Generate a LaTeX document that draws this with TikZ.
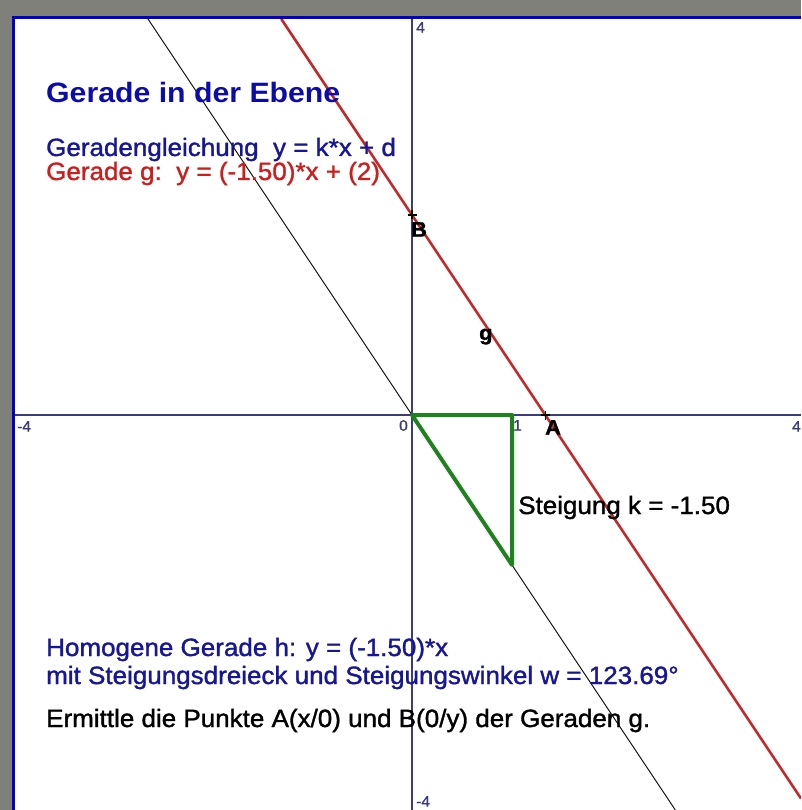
\documentclass[tikz,border=0pt]{standalone}
\usepackage{fontspec}
\setmainfont{Liberation Sans}[FakeStretch=1.04,FakeBold=1.3]
\newfontfamily\titlefont{Liberation Sans Bold}[FakeStretch=1.08]
\definecolor{framegray}{RGB}{128,128,122}
\definecolor{frameblue}{RGB}{0,0,200}
\definecolor{axiscol}{RGB}{60,60,125}
\definecolor{titleblue}{RGB}{12,12,170}
\definecolor{textblue}{RGB}{22,22,150}
\definecolor{textred}{RGB}{205,30,30}
\definecolor{linered}{RGB}{195,40,40}
\definecolor{trigreen}{RGB}{30,130,30}
\tikzset{
  body/.style={anchor=base west,inner sep=0pt,font=\fontsize{25}{29}\selectfont},
  ticklab/.style={inner sep=0pt,text=axiscol,font=\fontsize{15}{17}\selectfont},
  ptlab/.style={inner sep=0pt,font=\bfseries\fontsize{21}{24}\selectfont},
  axisline/.style={draw=axiscol,line width=1.3pt},
  crossmark/.style={draw=black,line width=1.5pt}
}
\begin{document}
\begin{tikzpicture}[x=1pt,y=-1pt]
\useasboundingbox (0,0) rectangle (801,810);
\fill[white] (0,0) rectangle (801,810);
% named points (pixel coordinates)
\coordinate (O) at (412,415);
\coordinate (E) at (512,415);
\coordinate (F) at (512,565);
\coordinate (A) at (545.3,415);
\coordinate (B) at (412,215);
\coordinate (gS) at (281.3,19);
\coordinate (gE) at (801,798.5);
\coordinate (hS) at (148,19);
\coordinate (hE) at (675.3,810);
\coordinate (xL) at (15,415);
\coordinate (xR) at (801,415);
\coordinate (yT) at (412,19);
\coordinate (yB) at (412,810);
\begin{scope}
\clip (15,19) rectangle (801,810);
\draw[axisline] (xL) -- (xR);
\draw[axisline] (yT) -- (yB);
\draw[black,line width=0.9pt] (hS) -- (hE);
\draw[linered,line width=2.6pt] (gS) -- (gE);
\draw[trigreen,line width=4pt,line join=round] (O) -- (E) -- (F) -- cycle;
\end{scope}
% point markers
\draw[crossmark] ([xshift=-4.5pt]A) -- ([xshift=4.5pt]A) ([yshift=-4.5pt]A) -- ([yshift=4.5pt]A);
\draw[crossmark] ([xshift=-4.5pt]B) -- ([xshift=4.5pt]B) ([yshift=-4.5pt]B) -- ([yshift=4.5pt]B);
\node[ptlab,anchor=north west] (lA) at (545,420) {A};
\node[ptlab,anchor=north west] (lB) at (411,222) {B};
\node[ptlab,anchor=base west] (lg) at (479,340) {g};
% tick labels
\node[ticklab,anchor=north east] (t0) at (408,420) {0};
\node[ticklab,anchor=north west] (t1) at (513,420) {1};
\node[ticklab,anchor=north west] (txl) at (17,421) {-4};
\node[ticklab,anchor=north east] (txr) at (801,421) {4};
\node[ticklab,anchor=north west] (tyt) at (416,22) {4};
\node[ticklab,anchor=north west] (tyb) at (416,796) {-4};
% frame
\fill[framegray] (0,0) rectangle (801,16.5);
\fill[framegray] (0,0) rectangle (11.5,810);
\fill[frameblue] (11.5,16.5) rectangle (801,19.5);
\fill[frameblue] (11.5,16.5) rectangle (14.5,810);
% texts
\node[anchor=base west,inner sep=0pt,text=titleblue,font=\titlefont\fontsize{28}{32}\selectfont] (title) at (46,103) {Gerade in der Ebene};
\node[body,text=textblue] (eq) at (46,156) {Geradengleichung\ \ y = k*x + d};
\node[body,text=textred] (geq) at (46,180) {Gerade g:\ \ y = (-1.50)*x + (2)};
\node[body,text=black] (steig) at (518,514) {Steigung k = -1.50};
\node[body,text=textblue] (hom) at (46,656) {Homogene Gerade h: y = (-1.50)*x};
\node[body,text=textblue] (mit) at (46,684) {mit Steigungsdreieck und Steigungswinkel w = 123.69°};
\node[body,text=black] (task) at (46,727) {Ermittle die Punkte A(x/0) und B(0/y) der Geraden g.};
\end{tikzpicture}
\end{document}
